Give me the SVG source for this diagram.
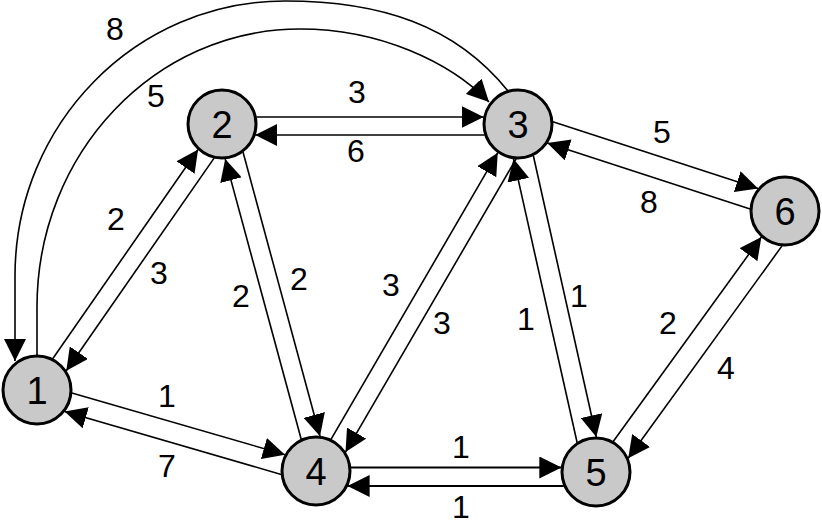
<svg xmlns="http://www.w3.org/2000/svg" width="822" height="528" viewBox="0 0 822 528">
<defs>
<marker id="ah" viewBox="0 0 22 22" markerWidth="22" markerHeight="22" refX="22" refY="11" orient="auto" markerUnits="userSpaceOnUse">
<path d="M0,0 L22,11 L0,22 z" fill="#000"/>
</marker>
<style>
.e{fill:none;stroke:#000;stroke-width:1.6}
.a{marker-end:url(#ah)}
.n circle{fill:#c9c9c9;stroke:#000;stroke-width:3}
.n text{font-family:"Liberation Sans",Arial,sans-serif;font-size:38px;text-anchor:middle;fill:#000}
.l{font-family:"Liberation Sans",Arial,sans-serif;font-size:32px;text-anchor:middle;fill:#000}
</style>
</defs>
<rect width="822" height="528" fill="#fff"/>
<g id="connectors">
<path class="e a" d="M508,91 C455,25 380,1 285,1 C136,1 15,124 15,276 L15,361"/>
<path class="e a" d="M37,355 L37,307 C37,153 155,29 300,29 C380,29 450,62 489,102"/>
<line class="e a" x1="52.7" y1="358.7" x2="198.1" y2="149.5"/>
<line class="e a" x1="214.1" y1="158.1" x2="66.3" y2="370.7"/>
<line class="e a" x1="256.3" y1="117" x2="483.7" y2="117"/>
<line class="e a" x1="484.8" y1="135" x2="255.2" y2="135"/>
<line class="e a" x1="301.2" y1="439.3" x2="225.2" y2="158.9"/>
<line class="e a" x1="243" y1="152" x2="320" y2="436.2"/>
<line class="e a" x1="331" y1="439.3" x2="497.8" y2="152.7"/>
<line class="e a" x1="516.1" y1="158.9" x2="345.5" y2="452.1"/>
<line class="e a" x1="577.1" y1="442.5" x2="513.5" y2="158.7"/>
<line class="e a" x1="533.3" y1="155.5" x2="596.3" y2="437"/>
<line class="e a" x1="613.2" y1="441.5" x2="761.4" y2="236.9"/>
<line class="e a" x1="782" y1="245.9" x2="628.2" y2="458.3"/>
<line class="e a" x1="552.9" y1="121.7" x2="758.1" y2="188.5"/>
<line class="e a" x1="750.1" y1="209.1" x2="547.3" y2="143.1"/>
<line class="e a" x1="71.9" y1="392.9" x2="285" y2="454.7"/>
<line class="e a" x1="281.2" y1="474.4" x2="64.6" y2="411.6"/>
<line class="e a" x1="350.8" y1="467.5" x2="561.3" y2="467.5" style="stroke-width:2"/>
<line class="e a" x1="563.9" y1="486" x2="347.6" y2="486" style="stroke-width:1.8"/>
</g>
<g id="labels">
<text class="l" x="115" y="39.5">8</text>
<text class="l" x="156" y="106.5">5</text>
<text class="l" x="357" y="103">3</text>
<text class="l" x="356" y="162">6</text>
<text class="l" x="116" y="230">2</text>
<text class="l" x="159" y="284">3</text>
<text class="l" x="241" y="307">2</text>
<text class="l" x="299" y="290">2</text>
<text class="l" x="391" y="295.5">3</text>
<text class="l" x="442" y="333.5">3</text>
<text class="l" x="526" y="329.5">1</text>
<text class="l" x="579" y="306.5">1</text>
<text class="l" x="662" y="142.5">5</text>
<text class="l" x="649" y="212.5">8</text>
<text class="l" x="668" y="333.5">2</text>
<text class="l" x="726" y="378.5">4</text>
<text class="l" x="167" y="406.5">1</text>
<text class="l" x="167" y="476.5">7</text>
<text class="l" x="461" y="457.5">1</text>
<text class="l" x="461" y="517.5">1</text>
</g>
<g id="node1" class="n"><circle cx="37" cy="390" r="34"/><text x="37" y="403.5">1</text></g>
<g id="node2" class="n"><circle cx="222" cy="124" r="34"/><text x="222" y="137.5">2</text></g>
<g id="node3" class="n"><circle cx="518" cy="124" r="34"/><text x="518" y="137.5">3</text></g>
<g id="node4" class="n"><circle cx="316" cy="471" r="34"/><text x="316" y="484.5">4</text></g>
<g id="node5" class="n"><circle cx="596" cy="472" r="34"/><text x="596" y="485.5">5</text></g>
<g id="node6" class="n"><circle cx="785" cy="211" r="34"/><text x="785" y="224.5">6</text></g>
</svg>
